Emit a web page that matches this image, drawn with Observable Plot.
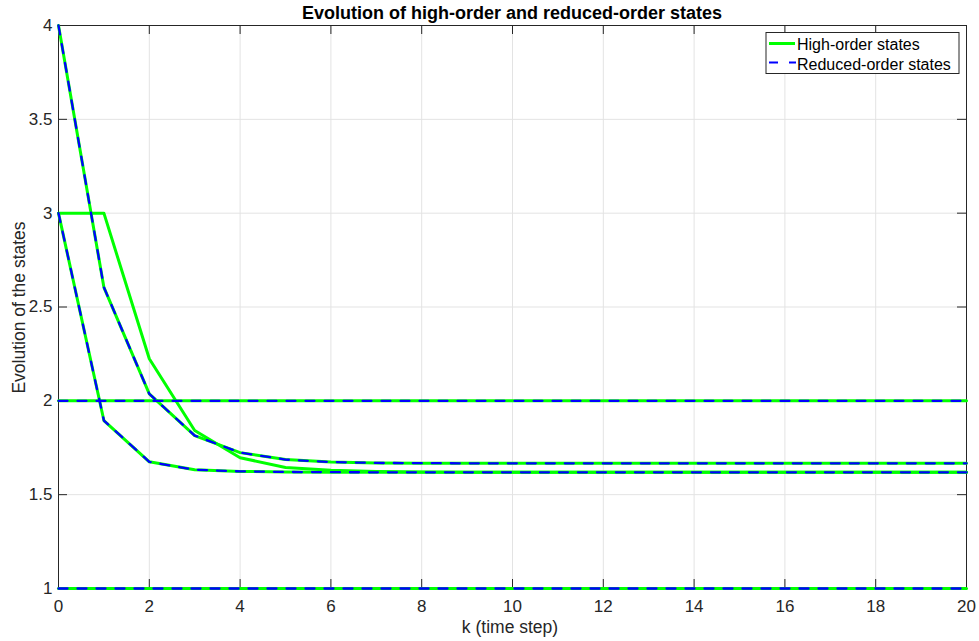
<!DOCTYPE html>
<html>
<head>
<meta charset="utf-8">
<script src="https://cdn.jsdelivr.net/npm/d3@7"></script>
<script src="https://cdn.jsdelivr.net/npm/@observablehq/plot@0.6"></script>
<style>
  html, body { margin: 0; padding: 0; background: #ffffff; }
  #chart { width: 979px; height: 641px; }
</style>
</head>
<body>
<div id="chart"></div>
<script>
// ---- Data ----
const k = [0, 1, 2, 3, 4, 5, 6, 7, 8, 9, 10, 11, 12, 13, 14, 15, 16, 17, 18, 19, 20];

// High-order states
const high1 = [1, 1, 1, 1, 1, 1, 1, 1, 1, 1, 1, 1, 1, 1, 1, 1, 1, 1, 1, 1, 1];
const high2 = [2, 2, 2, 2, 2, 2, 2, 2, 2, 2, 2, 2, 2, 2, 2, 2, 2, 2, 2, 2, 2];
const high3 = [4, 2.605, 2.037, 1.815, 1.724, 1.687, 1.674, 1.669, 1.668, 1.667, 1.667, 1.667, 1.667, 1.667, 1.667, 1.667, 1.667, 1.667, 1.667, 1.667, 1.667];
const high4 = [3, 1.895, 1.675, 1.633, 1.624, 1.621, 1.620, 1.619, 1.619, 1.619, 1.619, 1.619, 1.619, 1.619, 1.619, 1.619, 1.619, 1.619, 1.619, 1.619, 1.619];
const high5 = [3, 3, 2.224, 1.842, 1.697, 1.645, 1.630, 1.624, 1.621, 1.620, 1.619, 1.619, 1.619, 1.619, 1.619, 1.619, 1.619, 1.619, 1.619, 1.619, 1.619];

// Reduced-order states
const red1 = [1, 1, 1, 1, 1, 1, 1, 1, 1, 1, 1, 1, 1, 1, 1, 1, 1, 1, 1, 1, 1];
const red2 = [2, 2, 2, 2, 2, 2, 2, 2, 2, 2, 2, 2, 2, 2, 2, 2, 2, 2, 2, 2, 2];
const red3 = [4, 2.605, 2.037, 1.815, 1.724, 1.687, 1.674, 1.669, 1.668, 1.667, 1.667, 1.667, 1.667, 1.667, 1.667, 1.667, 1.667, 1.667, 1.667, 1.667, 1.667];
const red4 = [3, 1.895, 1.675, 1.633, 1.624, 1.621, 1.620, 1.619, 1.619, 1.619, 1.619, 1.619, 1.619, 1.619, 1.619, 1.619, 1.619, 1.619, 1.619, 1.619, 1.619];

const xTicks = [0, 2, 4, 6, 8, 10, 12, 14, 16, 18, 20];
const yTicks = [1, 1.5, 2, 2.5, 3, 3.5, 4];
const yTickLabels = ["1", "1.5", "2", "2.5", "3", "3.5", "4"];

const titleText = "Evolution of high-order and reduced-order states";
const xLabelText = "k (time step)";
const yLabelText = "Evolution of the states";
const legendLabels = ["High-order states", "Reduced-order states"];

// ---- Build long tables ----
function toRows(seriesList) {
  const rows = [];
  seriesList.forEach((vals, si) => {
    vals.forEach((v, i) => rows.push({k: k[i], v, s: si}));
  });
  return rows;
}
const highRows = toRows([high1, high2, high3, high4, high5]);
const redRows = toRows([red1, red2, red3, red4]);

// ---- Layout ----
const W = 979, H = 641;
const mL = 58, mR = 13, mT = 25, mB = 53;
const plotW = W - mL - mR, plotH = H - mT - mB;
const tickLen = 9;
const FONT = "'Liberation Sans', Arial, Helvetica, sans-serif";
const TXT = "#262626";
const GREEN = "#00ff00", BLUE = "#0000ff";
const DASH = "9,10";

const chart = Plot.plot({
  width: W,
  height: H,
  marginLeft: mL, marginRight: mR, marginTop: mT, marginBottom: mB,
  style: {fontFamily: FONT, fontSize: "17px", color: TXT, background: "#ffffff", overflow: "visible"},
  x: {domain: [0, 20]},
  y: {domain: [1, 4]},
  marks: [
    // grid
    Plot.ruleX(xTicks, {x: d => d, stroke: "#e3e3e3", strokeOpacity: 1, strokeWidth: 1}),
    Plot.ruleY(yTicks, {y: d => d, stroke: "#e3e3e3", strokeOpacity: 1, strokeWidth: 1}),
    // box
    Plot.frame({stroke: TXT, strokeWidth: 1}),
    // inward tick marks (bottom/top/left/right)
    Plot.tickX(xTicks, {x: d => d, insetTop: plotH - tickLen, stroke: TXT, strokeWidth: 1}),
    Plot.tickX(xTicks, {x: d => d, insetBottom: plotH - tickLen, stroke: TXT, strokeWidth: 1}),
    Plot.tickY(yTicks, {y: d => d, insetRight: plotW - tickLen, stroke: TXT, strokeWidth: 1}),
    Plot.tickY(yTicks, {y: d => d, insetLeft: plotW - tickLen, stroke: TXT, strokeWidth: 1}),
    // tick labels
    Plot.axisX({ticks: xTicks, tickSize: 0, tickPadding: 11, fontSize: 17, label: null, fill: TXT}),
    Plot.axisY({ticks: yTicks, tickSize: 0, tickPadding: 6, fontSize: 17, label: null, fill: TXT,
      tickFormat: d => yTickLabels[yTicks.indexOf(d)]}),
    // data
    Plot.line(highRows, {x: "k", y: "v", z: "s", stroke: GREEN, strokeWidth: 3}),
    Plot.line(redRows, {x: "k", y: "v", z: "s", stroke: BLUE, strokeWidth: 2.3, strokeDasharray: DASH})
  ]
});

document.getElementById("chart").appendChild(chart);

// ---- Title, axis labels, legend ----
const svg = d3.select(chart);

svg.append("text")
  .attr("x", mL + plotW / 2).attr("y", 19)
  .attr("text-anchor", "middle")
  .attr("font-family", FONT).attr("font-size", 18).attr("font-weight", "bold")
  .attr("fill", "#000000")
  .text(titleText);

svg.append("text")
  .attr("x", 510).attr("y", 633)
  .attr("text-anchor", "middle")
  .attr("font-family", FONT).attr("font-size", 17.5)
  .attr("fill", TXT)
  .text(xLabelText);

svg.append("text")
  .attr("transform", `translate(25, 307.5) rotate(-90)`)
  .attr("text-anchor", "middle")
  .attr("font-family", FONT).attr("font-size", 17.5)
  .attr("fill", TXT)
  .text(yLabelText);

const lg = svg.append("g").attr("transform", "translate(766, 32.5)");
lg.append("rect")
  .attr("x", 0).attr("y", 0).attr("width", 193).attr("height", 41)
  .attr("fill", "#ffffff").attr("stroke", TXT).attr("stroke-width", 1);
lg.append("line")
  .attr("x1", 3).attr("x2", 29).attr("y1", 11).attr("y2", 11)
  .attr("stroke", GREEN).attr("stroke-width", 3);
lg.append("line")
  .attr("x1", 3).attr("x2", 30).attr("y1", 30).attr("y2", 30)
  .attr("stroke", BLUE).attr("stroke-width", 2).attr("stroke-dasharray", "9,11");
legendLabels.forEach((t, i) => {
  lg.append("text")
    .attr("x", 31).attr("y", 17.5 + i * 20)
    .attr("text-anchor", "start")
    .attr("font-family", FONT).attr("font-size", 16)
    .attr("fill", "#000000")
    .text(t);
});
</script>
</body>
</html>
